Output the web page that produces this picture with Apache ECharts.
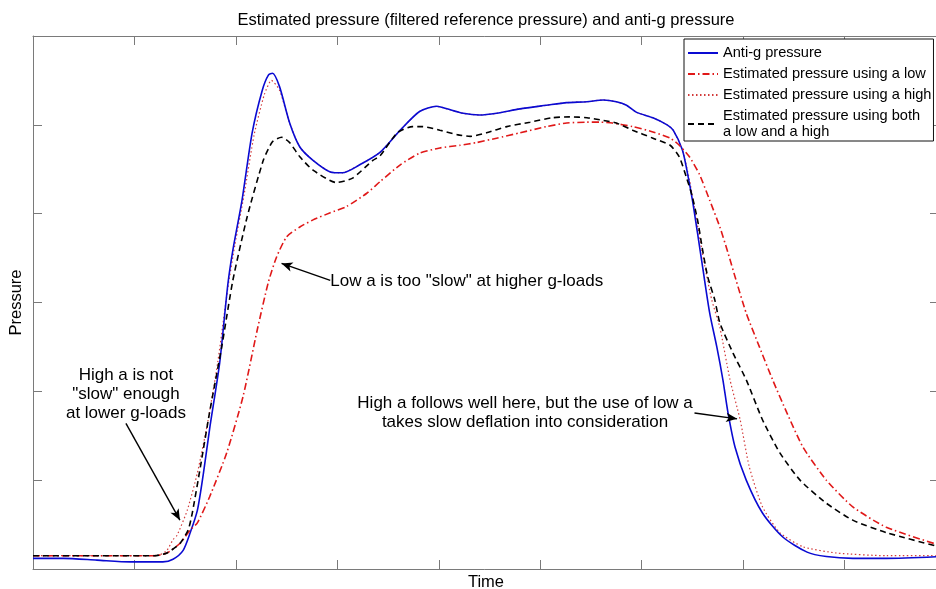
<!DOCTYPE html>
<html>
<head>
<meta charset="utf-8">
<script src="https://cdn.jsdelivr.net/npm/echarts@6/dist/echarts.min.js"></script>
<style>html,body{margin:0;padding:0;background:#fff}#c{width:936px;height:589px}</style>
</head>
<body>
<div id="c"></div>
<script>
// ---- data (time in tick units, pressure in tick units) ----
const blueT = [0,0.30,0.63,0.96,1.28,1.38,1.48,1.55,1.62,1.68,1.74,1.84,1.92,1.97,2.06,2.16,2.26,2.32,2.36,2.43,2.53,2.63,2.76,2.93,3.05,3.22,3.42,3.62,3.81,3.98,4.08,4.24,4.40,4.57,4.80,5.06,5.26,5.46,5.62,5.75,5.85,5.95,6.11,6.25,6.31,6.40,6.45,6.50,6.55,6.60,6.67,6.74,6.80,6.85,6.92,7.03,7.19,7.39,7.63,7.82,8.08,8.41,8.93];
const blueP = [0.12,0.12,0.10,0.08,0.08,0.11,0.21,0.41,0.66,1.08,1.57,2.32,3.20,3.59,4.15,4.91,5.39,5.56,5.58,5.43,5.02,4.75,4.60,4.47,4.46,4.55,4.69,4.94,5.15,5.21,5.18,5.13,5.11,5.13,5.18,5.22,5.25,5.26,5.28,5.26,5.22,5.14,5.08,5.00,4.94,4.72,4.46,4.15,3.78,3.40,2.88,2.50,2.13,1.76,1.37,1.00,0.63,0.36,0.19,0.14,0.12,0.12,0.14];

const lowT = [0,0.66,1.20,1.32,1.45,1.55,1.62,1.74,1.91,2.07,2.21,2.32,2.40,2.50,2.63,2.76,2.93,3.09,3.29,3.42,3.62,3.81,4.01,4.21,4.37,4.57,4.80,5.06,5.26,5.46,5.59,5.71,5.91,6.11,6.28,6.37,6.47,6.57,6.67,6.77,6.85,6.93,7.03,7.16,7.29,7.43,7.59,7.82,8.08,8.41,8.93];
const lowP = [0.15,0.15,0.15,0.18,0.29,0.44,0.52,0.81,1.31,1.94,2.69,3.23,3.51,3.74,3.85,3.93,4.01,4.08,4.23,4.36,4.55,4.68,4.74,4.77,4.80,4.85,4.91,4.98,5.02,5.03,5.03,5.02,4.98,4.92,4.85,4.77,4.64,4.44,4.15,3.85,3.56,3.25,2.88,2.50,2.13,1.76,1.37,1.00,0.70,0.47,0.27];

const highT = [0,0.66,1.15,1.25,1.32,1.38,1.42,1.52,1.62,1.72,1.82,1.92,1.99,2.08,2.18,2.28,2.35,2.43,2.53,2.63,2.76,2.93,3.05,3.22,3.42,3.62,3.81,3.98,4.08,4.24,4.40,4.57,4.80,5.06,5.26,5.46,5.62,5.75,5.85,5.95,6.11,6.25,6.31,6.40,6.47,6.54,6.62,6.69,6.77,6.87,6.97,7.06,7.19,7.36,7.59,7.92,8.41,8.93];
const highP = [0.15,0.15,0.15,0.16,0.21,0.33,0.38,0.66,1.08,1.64,2.32,3.16,3.65,4.21,4.89,5.34,5.50,5.39,5.02,4.75,4.60,4.47,4.46,4.55,4.69,4.94,5.15,5.21,5.18,5.13,5.11,5.13,5.18,5.22,5.25,5.26,5.28,5.26,5.22,5.14,5.08,5.00,4.94,4.72,4.38,3.93,3.42,3.03,2.72,2.13,1.68,1.15,0.70,0.41,0.25,0.18,0.15,0.15];

const bothT = [0,0.66,1.20,1.32,1.45,1.53,1.57,1.65,1.74,1.86,1.97,2.11,2.27,2.36,2.45,2.53,2.63,2.76,2.99,3.15,3.35,3.42,3.59,3.74,3.84,4.01,4.18,4.31,4.47,4.67,4.90,5.12,5.29,5.46,5.62,5.75,5.91,6.11,6.28,6.37,6.44,6.49,6.55,6.60,6.65,6.72,6.77,6.90,7.03,7.19,7.36,7.56,7.82,8.08,8.41,8.93];
const bothP = [0.15,0.15,0.15,0.18,0.29,0.44,0.63,1.15,1.76,2.50,3.25,3.96,4.60,4.81,4.86,4.80,4.64,4.49,4.35,4.40,4.60,4.65,4.91,4.98,4.98,4.94,4.89,4.87,4.91,4.98,5.03,5.08,5.09,5.08,5.05,5.02,4.94,4.85,4.77,4.64,4.41,4.23,3.93,3.59,3.29,3.03,2.77,2.43,2.13,1.68,1.31,1.00,0.74,0.55,0.41,0.25];

const seriesNames = ['Anti-g pressure','Estimated pressure using a low','Estimated pressure using a high','Estimated pressure using both a low and a high'];
const legendLabels = ['Anti-g pressure','Estimated pressure using a low','Estimated pressure using a high','Estimated pressure using both\na low and a high'];

const yTicks = [0,1,2,3,4,5,6];
const xRange = [0, 8.93];

// annotations (data coordinates)
const noteText = ['High a is not\n"slow" enough\nat lower g-loads','Low a is too "slow" at higher g-loads','High a follows well here, but the use of low a\ntakes slow deflation into consideration'];
const notePos = [[0.916,1.97],[2.93,3.24],[4.85,1.76]];
const noteAlign = ['center','left','center'];
const arrowFrom = [[0.916,1.64],[2.93,3.25],[6.52,1.756]];
const arrowTo = [[1.448,0.55],[2.45,3.44],[6.94,1.69]];

const zip = (a,b) => a.map((v,i) => [v,b[i]]);
const FONT = 'Liberation Sans, Arial, Helvetica, sans-serif';
const AX = '#7a7a7a';

const chart = echarts.init(document.getElementById('c'), null, {renderer:'canvas'});

const axisCommon = {
  axisLine:{show:true,onZero:false,lineStyle:{color:AX,width:1}},
  axisTick:{show:true,inside:true,length:9,lineStyle:{color:AX,width:1}},
  axisLabel:{show:false},
  splitLine:{show:false}
};

const option = {
  animation:false,
  backgroundColor:'#fff',
  textStyle:{fontFamily:FONT},
  title:{
    text:'Estimated pressure (filtered reference pressure) and anti-g pressure',
    left:481, top:7, textAlign:'center',
    textStyle:{fontSize:16.5,fontWeight:'normal',color:'#000',fontFamily:FONT}
  },
  grid:{left:33,right:-3,top:36,bottom:20,containLabel:false,outerBoundsMode:'none'},
  xAxis:[
    Object.assign({type:'value',min:xRange[0],max:xRange[1],interval:1,position:'bottom',
      name:'Time',nameLocation:'middle',nameGap:5,
      nameTextStyle:{fontSize:16.5,color:'#000',fontFamily:FONT}},axisCommon),
    Object.assign({type:'value',min:xRange[0],max:xRange[1],interval:1,position:'top'},axisCommon)
  ],
  yAxis:[
    Object.assign({type:'value',min:yTicks[0],max:yTicks[yTicks.length-1],interval:1,position:'left',
      name:'Pressure',nameLocation:'middle',nameGap:8,
      nameTextStyle:{fontSize:16.5,color:'#000',fontFamily:FONT}},axisCommon),
    Object.assign({type:'value',min:yTicks[0],max:yTicks[yTicks.length-1],interval:1,position:'right'},axisCommon)
  ],
  legend:{
    data:seriesNames,
    orient:'vertical',
    left:684, top:39,
    padding:[6,2,1,3],
    itemGap:5,
    itemWidth:30,
    itemHeight:14,
    backgroundColor:'#fff',
    borderColor:'#111',
    borderWidth:1,
    borderRadius:0,
    selectedMode:false,
    itemStyle:{opacity:0},
    textStyle:{fontSize:14.6,color:'#000',fontFamily:FONT,lineHeight:16},
    formatter:(n) => legendLabels[seriesNames.indexOf(n)]
  },
  series:[
    {
      name:seriesNames[2], type:'line', data:zip(highT,highP), symbol:'none', smooth:0.2, z:2,
      lineStyle:{color:'#d23a3a',width:1.2,type:[1.5,2.5]}, itemStyle:{color:'#d23a3a'}
    },
    {
      name:seriesNames[0], type:'line', data:zip(blueT,blueP), symbol:'none', smooth:0.25, z:3,
      lineStyle:{color:'#0a0ad2',width:1.6,type:'solid'}, itemStyle:{color:'#0a0ad2'}
    },
    {
      name:seriesNames[1], type:'line', data:zip(lowT,lowP), symbol:'none', smooth:0.2, z:4,
      lineStyle:{color:'#e01818',width:1.6,type:[7,3,1.5,3]}, itemStyle:{color:'#e01818'}
    },
    {
      name:seriesNames[3], type:'line', data:zip(bothT,bothP), symbol:'none', smooth:0.2, z:5,
      lineStyle:{color:'#000',width:1.6,type:[6,4]}, itemStyle:{color:'#000'}
    },
    {
      name:'notes', type:'scatter', symbolSize:0, z:6, silent:true,
      itemStyle:{opacity:1},
      data:notePos.map((p,i) => ({
        value:p,
        label:{
          show:true,
          formatter:noteText[i],
          position: noteAlign[i]==='left' ? 'right' : 'inside',
          distance:0,
          align:noteAlign[i],
          verticalAlign:'middle',
          fontSize:17, lineHeight:19, color:'#000', opacity:1, fontFamily:FONT
        }
      })),
      markLine:{
        silent:true, animation:false,
        symbol:['none','arrow'], symbolSize:[7,11],
        label:{show:false},
        lineStyle:{color:'#000',width:1.4,type:'solid'},
        data:arrowFrom.map((a,i) => [{coord:a},{coord:arrowTo[i]}])
      }
    }
  ]
};
chart.setOption(option);
</script>
</body>
</html>
